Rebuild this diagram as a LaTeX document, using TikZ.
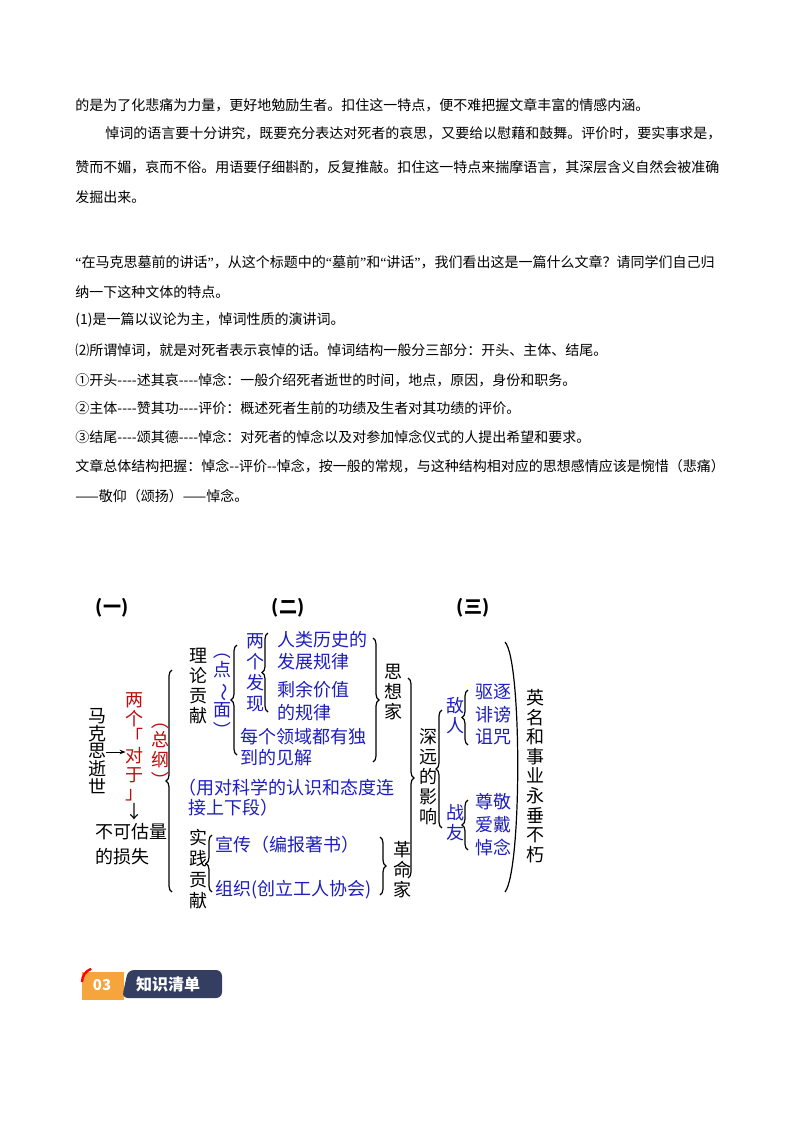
\documentclass[tikz,border=0pt]{standalone}
\usepackage{fontspec}
\usepackage{graphicx}
\setmainfont{Noto Sans CJK SC}
\newfontfamily\lat{Liberation Serif}
\newcommand{\myq}[1]{{\lat “}#1{\lat ”}}
\newcommand{\vp}[1]{\rotatebox[origin=c]{-90}{#1}}
\usetikzlibrary{decorations.pathreplacing,arrows.meta}
\definecolor{dblue}{RGB}{30,30,190}
\definecolor{dred}{RGB}{190,10,10}
\definecolor{navy}{RGB}{52,62,96}
\definecolor{orng}{RGB}{245,165,60}
\begin{document}
\begin{tikzpicture}[x=0.5pt,y=-0.5pt,
  body/.style={anchor=west,inner sep=0,font=\fontsize{7}{8}\selectfont},
  dg/.style={inner sep=0,font=\fontsize{9}{10}\selectfont},
  vt/.style={dg,align=center,font=\fontsize{9}{#1}\selectfont},
  vt/.default=10.5,
  bl/.style={text=dblue},
  rd/.style={text=dred},
  br/.style={decorate,decoration={brace,amplitude=3pt},line width=0.6pt}]
\useasboundingbox[fill=white] (0,0) rectangle (800,1132);
% body text
\node[body] (t1) at (75,105) {的是为了化悲痛为力量，更好地勉励生者。扣住这一特点，便不难把握文章丰富的情感内涵。};
\node[body] (t2) at (105,133) {悼词的语言要十分讲究，既要充分表达对死者的哀思，又要给以慰藉和鼓舞。评价时，要实事求是，};
\node[body] (t3) at (75,167) {赞而不媚，哀而不俗。用语要仔细斟酌，反复推敲。扣住这一特点来揣摩语言，其深层含义自然会被准确};
\node[body] (t4) at (75,197) {发掘出来。};
\node[body] (t5) at (75,262) {\myq{在马克思墓前的讲话}，从这个标题中的\myq{墓前}和\myq{讲话}，我们看出这是一篇什么文章？请同学们自己归};
\node[body] (t6) at (75,292) {纳一下这种文体的特点。};
\node[body] (t7) at (75,320) {(1)是一篇以议论为主，悼词性质的演讲词。};
\node[body] (t8) at (75,350) {⑵所谓悼词，就是对死者表示哀悼的话。悼词结构一般分三部分：开头、主体、结尾。};
\node[body] (t9) at (75,380) {①开头-{}-{}-{}-述其哀-{}-{}-{}-悼念：一般介绍死者逝世的时间，地点，原因，身份和职务。};
\node[body] (t10) at (75,408) {②主体-{}-{}-{}-赞其功-{}-{}-{}-评价：概述死者生前的功绩及生者对其功绩的评价。};
\node[body] (t11) at (75,437) {③结尾-{}-{}-{}-颂其德-{}-{}-{}-悼念：对死者的悼念以及对参加悼念仪式的人提出希望和要求。};
\node[body] (t12) at (75,466) {文章总体结构把握：悼念-{}-评价-{}-悼念，按一般的常规，与这种结构相对应的思想感情应该是惋惜（悲痛）};
\node[body] (t13) at (75,496) {——敬仰（颂扬）——悼念。};
% headings
\node[dg,font=\bfseries\fontsize{9}{10}\selectfont] (h1) at (112,608) {(一)};
\node[dg,font=\bfseries\fontsize{9}{10}\selectfont] (h2) at (288,608) {(二)};
\node[dg,font=\bfseries\fontsize{9}{10}\selectfont] (h3) at (473,608) {(三)};
% left part
\node[vt=8.8] (mk) at (97,751) {马\\克\\思\\逝\\世};
\node[vt=9.3,rd] (dy) at (135,747) {两\\个\\「\\对\\于\\」};
\draw[-{Stealth[length=3pt]},line width=0.5pt] (mk.east|-135,752) -- (dy.west|-135,752);
\node[dg] (dn) at (135,812) {↓};
\node[dg,anchor=west] (bk1) at (95,832) {不可估量};
\node[dg,anchor=west] (bk2) at (95,857) {的损失};
\node[vt=10,rd] (zg) at (160,750) {\vp{（}\\总\\纲\\\vp{）}};
\draw[br] (172,892) -- (172,670);
% theory
\node[vt=10] (ll) at (198,686) {理\\论\\贡\\献};
\node[vt=10,bl] (dm) at (222,690) {\vp{（}\\点\\\vp{～}\\面\\\vp{）}};
\draw[br] (237,755) -- (237,645);
\node[vt=10.5,bl] (lg) at (255,673) {两\\个\\发\\现};
\draw[br] (268,712) -- (268,633);
\node[dg,bl,anchor=west] (a1) at (277,640) {人类历史的};
\node[dg,bl,anchor=west] (a2) at (277,662) {发展规律};
\node[dg,bl,anchor=west] (a3) at (277,690) {剩余价值};
\node[dg,bl,anchor=west] (a4) at (277,713) {的规律};
\node[dg,bl,anchor=west] (a5) at (240,737) {每个领域都有独};
\node[dg,bl,anchor=west] (a6) at (240,758) {到的见解};
\draw[br] (373,638) -- (373,762);
\node[vt=10] (sx) at (393,692) {思\\想\\家};
\node[dg,bl,anchor=west] (k1) at (178,788) {（用对科学的认识和态度连};
\node[dg,bl,anchor=west] (k2) at (188,808) {接上下段）};
% practice
\node[vt=10.5] (sj) at (198,869) {实\\践\\贡\\献};
\draw[br] (212,892) -- (212,835);
\node[dg,bl,anchor=west] (p1) at (215,845) {宣传（编报著书）};
\node[dg,bl,anchor=west] (p2) at (215,890) {组织(创立工人协会)};
\draw[br] (380,837) -- (380,895);
\node[vt=10] (gm) at (402,870) {革\\命\\家};
\draw[br] (408,678) -- (408,878);
% influence
\node[vt=10] (sy) at (428,777) {深\\远\\的\\影\\响};
\draw[br] (442,828) -- (442,710);
\node[vt=10,bl] (dr) at (455,716) {敌\\人};
\draw[br] (468,745) -- (468,690);
\node[dg,bl] (q1) at (493,692) {驱逐};
\node[dg,bl] (q2) at (493,715) {诽谤};
\node[dg,bl] (q3) at (493,737) {诅咒};
\node[vt=10,bl] (zy) at (455,823) {战\\友};
\draw[br] (468,850) -- (468,800);
\node[dg,bl] (z1) at (493,802) {尊敬};
\node[dg,bl] (z2) at (493,825) {爱戴};
\node[dg,bl] (z3) at (493,847) {悼念};
\draw[line width=0.6pt] (505,642) .. controls (522,660) and (522,870) .. (505,892);
\node[vt=9.8] (ym) at (535,776) {英\\名\\和\\事\\业\\永\\垂\\不\\朽};
% badge
\fill[orng] (82,972) rectangle (124,1000);
\fill[navy,rounded corners=3pt] (128,970) -- (222,970) -- (222,998) -- (122,998) -- cycle;
\draw[red,line width=1.2pt] (82,982) arc (180:250:14);
\node[inner sep=0,text=white,font=\bfseries\fontsize{7.5}{8}\selectfont] (n03) at (102,985) {03};
\node[inner sep=0,text=white,font=\bfseries\fontsize{8}{9}\selectfont] (zs) at (168,984) {知识清单};
\end{tikzpicture}
\end{document}
